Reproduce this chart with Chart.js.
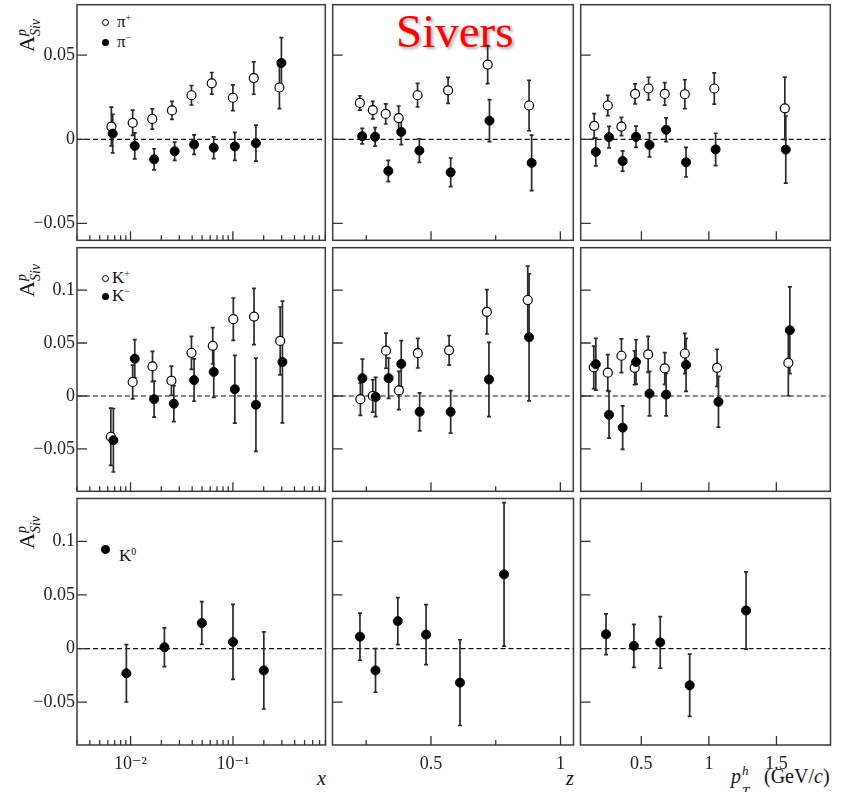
<!DOCTYPE html>
<html>
<head>
<meta charset="utf-8">
<script src="https://cdn.jsdelivr.net/npm/chart.js@4.4.1/dist/chart.umd.min.js"></script>
<style>
  body { margin: 0; background: #fff; }
  #wrap { position: relative; width: 847px; height: 792px; overflow: hidden;
          font-family: 'Liberation Serif', 'DejaVu Serif', serif; color: #111; }
  #wrap canvas { position: absolute; }
  .txt { position: absolute; white-space: nowrap; line-height: 1; font-size: 20px; }
  .txt.it { font-style: italic; }
  .txt.small { font-size: 13px; }
  .yt { position: absolute; white-space: nowrap; line-height: 1; transform-origin: 0 0; transform: rotate(-90deg); }
  .yt .big { font-size: 22px; }
  .yt .up { font-size: 14px; font-style: italic; position: relative; top: -8px; }
  .yt .dn { font-size: 14px; font-style: italic; position: relative; top: 6px; margin-left: -7px; }
  .leg { position: absolute; font-size: 17px; line-height: 1; white-space: nowrap; }
  .leg sup { font-size: 10px; vertical-align: 6px; }
  .dot { position: absolute; width: 7px; height: 7px; border-radius: 50%; box-sizing: border-box; }
  .dot.open { border: 1.2px solid #000; background: #fff; }
  .dot.full { background: #000; }
  #title { position: absolute; left: 396px; top: 8px; font-size: 47px; line-height: 47px; color: #ff0000;
           text-shadow: 2px 2px 3px rgba(0,0,0,0.35); }
</style>
</head>
<body>
<div id="wrap">
  <div id="title">Sivers</div>

  <div class="yt" style="left:16px; top:52px"><span class="big">A</span><span class="up">p</span><span class="dn">Siv</span></div>
  <div class="yt" style="left:16px; top:297px"><span class="big">A</span><span class="up">p</span><span class="dn">Siv</span></div>
  <div class="yt" style="left:16px; top:549px"><span class="big">A</span><span class="up">p</span><span class="dn">Siv</span></div>

  <div class="dot open" style="left:102px; top:19px"></div>
  <div class="leg" style="left:117px; top:13px">π<sup>+</sup></div>
  <div class="dot full" style="left:102px; top:39px"></div>
  <div class="leg" style="left:117px; top:33px">π<sup>−</sup></div>

  <div class="dot open" style="left:102px; top:275px"></div>
  <div class="leg" style="left:112px; top:269px">K<sup>+</sup></div>
  <div class="dot full" style="left:102px; top:293px"></div>
  <div class="leg" style="left:112px; top:287px">K<sup>−</sup></div>

  <div class="dot full" style="left:101px; top:545px; width:9px; height:9px"></div>
  <div class="leg" style="left:119px; top:547px">K<sup>0</sup></div>

  <div class="txt it" style="left:317px; top:768px">x</div>
  <div class="txt it" style="left:566px; top:768px">z</div>
  <div class="txt it" style="left:731px; top:766px">p</div>
  <div class="txt it small" style="left:742px; top:764px">h</div>
  <div class="txt it small" style="left:742px; top:784px">T</div>
  <div class="txt" style="left:764px; top:766px">(GeV/<i>c</i>)</div>
</div>

<script>
// ---- pi+ / pi- asymmetries ----
const piPlusX = [0.0065, 0.0105, 0.0163, 0.0254, 0.0394, 0.0622, 0.100, 0.160, 0.285];
const piPlusXVal = [0.0076, 0.0098, 0.0121, 0.0172, 0.0262, 0.0333, 0.0247, 0.0364, 0.0308];
const piPlusXErr = [0.0115, 0.0075, 0.0060, 0.0054, 0.0058, 0.0064, 0.0077, 0.0096, 0.0125];
const piMinusX = [0.0067, 0.0110, 0.0170, 0.0270, 0.0418, 0.0650, 0.1045, 0.168, 0.298];
const piMinusXVal = [0.0034, -0.0039, -0.0119, -0.0071, -0.0031, -0.0050, -0.0042, -0.0023, 0.0454];
const piMinusXErr = [0.0115, 0.0077, 0.0063, 0.0054, 0.0058, 0.0065, 0.0083, 0.0107, 0.0150];

const piPlusZ = [0.225, 0.275, 0.325, 0.375, 0.448, 0.566, 0.719, 0.879];
const piPlusZVal = [0.0216, 0.0174, 0.0151, 0.0126, 0.0262, 0.0291, 0.0444, 0.0201];
const piPlusZErr = [0.0043, 0.0052, 0.0060, 0.0072, 0.0070, 0.0077, 0.0113, 0.0150];
const piMinusZ = [0.234, 0.284, 0.335, 0.385, 0.455, 0.576, 0.726, 0.889];
const piMinusZVal = [0.0019, 0.0015, -0.0188, 0.0044, -0.0067, -0.0196, 0.0111, -0.0140];
const piMinusZErr = [0.0046, 0.0055, 0.0063, 0.0075, 0.0070, 0.0085, 0.0125, 0.0165];

const piPlusPt = [0.150, 0.251, 0.352, 0.453, 0.553, 0.673, 0.822, 1.040, 1.563];
const piPlusPtVal = [0.0080, 0.0201, 0.0076, 0.0270, 0.0302, 0.0270, 0.0268, 0.0302, 0.0184];
const piPlusPtErr = [0.0073, 0.0060, 0.0054, 0.0060, 0.0067, 0.0067, 0.0086, 0.0093, 0.0186];
const piMinusPt = [0.162, 0.260, 0.361, 0.460, 0.560, 0.683, 0.831, 1.050, 1.570];
const piMinusPtVal = [-0.0075, 0.0013, -0.0129, 0.0015, -0.0033, 0.0057, -0.0136, -0.0060, -0.0061];
const piMinusPtErr = [0.0083, 0.0064, 0.0060, 0.0063, 0.0071, 0.0071, 0.0088, 0.0096, 0.0199];

// ---- K+ / K- asymmetries ----
const kPlusX = [0.00642, 0.0105, 0.0164, 0.0251, 0.0394, 0.0636, 0.101, 0.161, 0.290];
const kPlusXVal = [-0.0385, 0.0132, 0.0279, 0.0144, 0.0407, 0.0474, 0.0725, 0.0750, 0.0520];
const kPlusXErr = [0.0270, 0.0160, 0.0143, 0.0138, 0.0156, 0.0172, 0.0200, 0.0266, 0.0320];
const kMinusX = [0.0068, 0.0110, 0.0170, 0.0265, 0.0418, 0.0650, 0.1045, 0.168, 0.305];
const kMinusXVal = [-0.0418, 0.0352, -0.0030, -0.0073, 0.0150, 0.0227, 0.0064, -0.0083, 0.0321];
const kMinusXErr = [0.0300, 0.0180, 0.0170, 0.0170, 0.0200, 0.0240, 0.0320, 0.0440, 0.0575];

const kPlusZ = [0.227, 0.275, 0.326, 0.376, 0.449, 0.570, 0.716, 0.874];
const kPlusZVal = [-0.0030, 0.0000, 0.0428, 0.0052, 0.0404, 0.0431, 0.0795, 0.0906];
const kPlusZErr = [0.0153, 0.0153, 0.0166, 0.0180, 0.0140, 0.0140, 0.0210, 0.0320];
const kMinusZ = [0.235, 0.286, 0.336, 0.385, 0.456, 0.576, 0.724, 0.879];
const kMinusZVal = [0.0168, -0.0009, 0.0168, 0.0303, -0.0150, -0.0150, 0.0156, 0.0554];
const kMinusZErr = [0.0180, 0.0185, 0.0190, 0.0220, 0.0180, 0.0200, 0.0350, 0.0600];

const kPlusPt = [0.147, 0.251, 0.352, 0.450, 0.550, 0.673, 0.822, 1.061, 1.589];
const kPlusPtVal = [0.0270, 0.0220, 0.0380, 0.0266, 0.0392, 0.0260, 0.0401, 0.0266, 0.0312];
const kPlusPtErr = [0.0200, 0.0170, 0.0160, 0.0160, 0.0170, 0.0150, 0.0190, 0.0175, 0.0310];
const kMinusPt = [0.162, 0.260, 0.361, 0.460, 0.560, 0.683, 0.831, 1.071, 1.600];
const kMinusPtVal = [0.0300, -0.0177, -0.0299, 0.0321, 0.0022, 0.0013, 0.0294, -0.0055, 0.0621];
const kMinusPtErr = [0.0245, 0.0220, 0.0205, 0.0210, 0.0210, 0.0200, 0.0250, 0.0240, 0.0410];

// ---- K0 asymmetries ----
const k0X = [0.0091, 0.0214, 0.0496, 0.100, 0.200];
const k0XVal = [-0.0231, 0.0012, 0.0238, 0.0062, -0.0204];
const k0XErr = [0.0268, 0.0180, 0.0200, 0.0350, 0.0360];
const k0Z = [0.226, 0.286, 0.372, 0.481, 0.612, 0.782];
const k0ZVal = [0.0111, -0.0204, 0.0256, 0.0130, -0.0318, 0.0692];
const k0ZErr = [0.0220, 0.0204, 0.0220, 0.0280, 0.0400, 0.0670];
const k0Pt = [0.239, 0.445, 0.640, 0.858, 1.275];
const k0PtVal = [0.0133, 0.0025, 0.0058, -0.0343, 0.0355];
const k0PtErr = [0.0190, 0.0200, 0.0240, 0.0290, 0.0360];

// ---- axes ----
const yTicksPi = [-0.05, 0, 0.05];
const yTicksK = [-0.05, 0, 0.05, 0.1];
const yRangePi = [-0.06, 0.08];
const yRangeK = [-0.09, 0.14];
const xLogLabels = [0.01, 0.1];
const zLabels = [0.5, 1];
const zMinor = [0.25, 0.75];
const ptLabels = [0.5, 1, 1.5];
const xLogMinor = [];
for (const dec of [0.001, 0.01, 0.1]) {
  for (let m = 2; m <= 9; m++) {
    const v = +(m * dec).toPrecision(3);
    if (v >= 0.003 && v <= 0.8 && v !== 0.01 && v !== 0.1) xLogMinor.push(v);
  }
}

const colEdges = [77, 329, 577, 834];
const rowEdges = [1, 244, 495, 745];
const serif = "'Liberation Serif', 'DejaVu Serif', serif";

// error bars, zero line, frame and inward ticks
const framePlugin = {
  id: 'frameBars',
  beforeDatasetsDraw(chart, args, opts) {
    const { ctx, chartArea: a, scales: { x, y } } = chart;
    ctx.save();
    ctx.beginPath();
    ctx.rect(a.left, a.top, a.right - a.left, a.bottom - a.top);
    ctx.clip();
    const y0 = y.getPixelForValue(0);
    ctx.strokeStyle = '#111';
    ctx.lineWidth = 1.2;
    ctx.setLineDash([5, 3]);
    ctx.beginPath();
    ctx.moveTo(a.left, y0);
    ctx.lineTo(a.right, y0);
    ctx.stroke();
    ctx.setLineDash([]);
    ctx.strokeStyle = '#2a2a2a';
    ctx.lineWidth = 1.7;
    chart.data.datasets.forEach(ds => {
      ds.data.forEach((p, i) => {
        const px = x.getPixelForValue(p.x);
        const lo = y.getPixelForValue(p.y - ds.err[i]);
        const hi = y.getPixelForValue(p.y + ds.err[i]);
        ctx.beginPath();
        ctx.moveTo(px, lo); ctx.lineTo(px, hi);
        ctx.moveTo(px - 2, lo); ctx.lineTo(px + 2, lo);
        ctx.moveTo(px - 2, hi); ctx.lineTo(px + 2, hi);
        ctx.stroke();
      });
    });
    ctx.restore();
  },
  afterDraw(chart, args, opts) {
    const { ctx, chartArea: a, scales: { x, y } } = chart;
    ctx.save();
    ctx.strokeStyle = '#333';
    ctx.lineWidth = 1.3;
    ctx.beginPath();
    opts.yMajor.forEach(v => {
      const py = y.getPixelForValue(v);
      ctx.moveTo(a.left, py); ctx.lineTo(a.left + 10, py);
    });
    opts.xMajor.forEach(v => {
      const px = x.getPixelForValue(v);
      ctx.moveTo(px, a.bottom); ctx.lineTo(px, a.bottom - 9);
    });
    opts.xMinor.forEach(v => {
      const px = x.getPixelForValue(v);
      ctx.moveTo(px, a.bottom); ctx.lineTo(px, a.bottom - 5);
    });
    ctx.stroke();
    ctx.strokeStyle = '#3a3a3a';
    ctx.lineWidth = 1.5;
    ctx.strokeRect(a.left, a.top, a.right - a.left, a.bottom - a.top);
    ctx.restore();
  }
};

function fmtY(v) {
  if (v === 0) return '0';
  return (v < 0 ? '\u2212' : '') + Math.abs(v);
}
function fmtX(col, v) {
  if (col === 0) return v === 0.01 ? '10\u207B\u00B2' : '10\u207B\u00B9';
  return String(v);
}

const xAxes = [
  { type: 'logarithmic', min: 0.003, max: 0.8, labels: xLogLabels, major: xLogLabels, minor: xLogMinor },
  { type: 'linear', min: 0.12, max: 1.05, labels: zLabels, major: zLabels, minor: zMinor },
  { type: 'linear', min: 0.05, max: 1.9, labels: ptLabels, major: ptLabels, minor: [] }
];

function series(xs, ys, errs, open) {
  return {
    data: xs.map((v, i) => ({ x: v, y: ys[i] })),
    err: errs,
    pointRadius: 4.5,
    pointHoverRadius: 4.5,
    pointBackgroundColor: open ? '#fff' : '#000',
    pointBorderColor: '#000',
    pointBorderWidth: open ? 1.2 : 1
  };
}

const panels = [
  [0, 0, [series(piMinusX, piMinusXVal, piMinusXErr, false), series(piPlusX, piPlusXVal, piPlusXErr, true)]],
  [0, 1, [series(piMinusZ, piMinusZVal, piMinusZErr, false), series(piPlusZ, piPlusZVal, piPlusZErr, true)]],
  [0, 2, [series(piMinusPt, piMinusPtVal, piMinusPtErr, false), series(piPlusPt, piPlusPtVal, piPlusPtErr, true)]],
  [1, 0, [series(kMinusX, kMinusXVal, kMinusXErr, false), series(kPlusX, kPlusXVal, kPlusXErr, true)]],
  [1, 1, [series(kMinusZ, kMinusZVal, kMinusZErr, false), series(kPlusZ, kPlusZVal, kPlusZErr, true)]],
  [1, 2, [series(kMinusPt, kMinusPtVal, kMinusPtErr, false), series(kPlusPt, kPlusPtVal, kPlusPtErr, true)]],
  [2, 0, [series(k0X, k0XVal, k0XErr, false)]],
  [2, 1, [series(k0Z, k0ZVal, k0ZErr, false)]],
  [2, 2, [series(k0Pt, k0PtVal, k0PtErr, false)]]
];

const wrap = document.getElementById('wrap');
const pad = 2;

panels.forEach(([r, c, datasets]) => {
  const left = c === 0 ? 0 : colEdges[c] - pad;
  const top = rowEdges[r] - pad;
  const right = colEdges[c + 1] + pad;
  const bottom = r === 2 ? 792 : rowEdges[r + 1] + pad;
  const canvas = document.createElement('canvas');
  canvas.width = right - left;
  canvas.height = bottom - top;
  canvas.style.left = left + 'px';
  canvas.style.top = top + 'px';
  wrap.appendChild(canvas);

  const xa = xAxes[c];
  const yTicks = r === 0 ? yTicksPi : yTicksK;
  const yRange = r === 0 ? yRangePi : yRangeK;
  const showX = r === 2;
  const showY = c === 0;

  new Chart(canvas, {
    type: 'scatter',
    data: { datasets },
    options: {
      responsive: false,
      animation: false,
      events: [],
      layout: { padding: { left: showY ? 0 : pad, right: pad, top: pad, bottom: showX ? 0 : pad } },
      plugins: {
        legend: { display: false },
        tooltip: { enabled: false },
        frameBars: { yMajor: yTicks, xMajor: xa.major, xMinor: xa.minor }
      },
      scales: {
        x: {
          type: xa.type,
          min: xa.min,
          max: xa.max,
          display: showX,
          grid: { display: false, drawTicks: false },
          border: { display: false },
          afterBuildTicks: s => { s.ticks = xa.labels.map(v => ({ value: v })); },
          afterFit: s => {
            if (!showX) return;
            s.height = 47; s.paddingLeft = 0; s.paddingRight = 0;
          },
          ticks: {
            autoSkip: false, maxRotation: 0, padding: 8,
            color: '#222', font: { family: serif, size: 18 },
            callback: v => fmtX(c, v)
          }
        },
        y: {
          type: 'linear',
          min: yRange[0],
          max: yRange[1],
          display: showY,
          grid: { display: false, drawTicks: false },
          border: { display: false },
          afterBuildTicks: s => { s.ticks = yTicks.map(v => ({ value: v })); },
          afterFit: s => {
            if (!showY) return;
            s.width = 77; s.paddingTop = 0; s.paddingBottom = 0;
          },
          ticks: {
            padding: 2,
            color: '#222', font: { family: serif, size: 18 },
            callback: v => fmtY(v)
          }
        }
      }
    },
    plugins: [framePlugin]
  });
});
</script>
</body>
</html>
